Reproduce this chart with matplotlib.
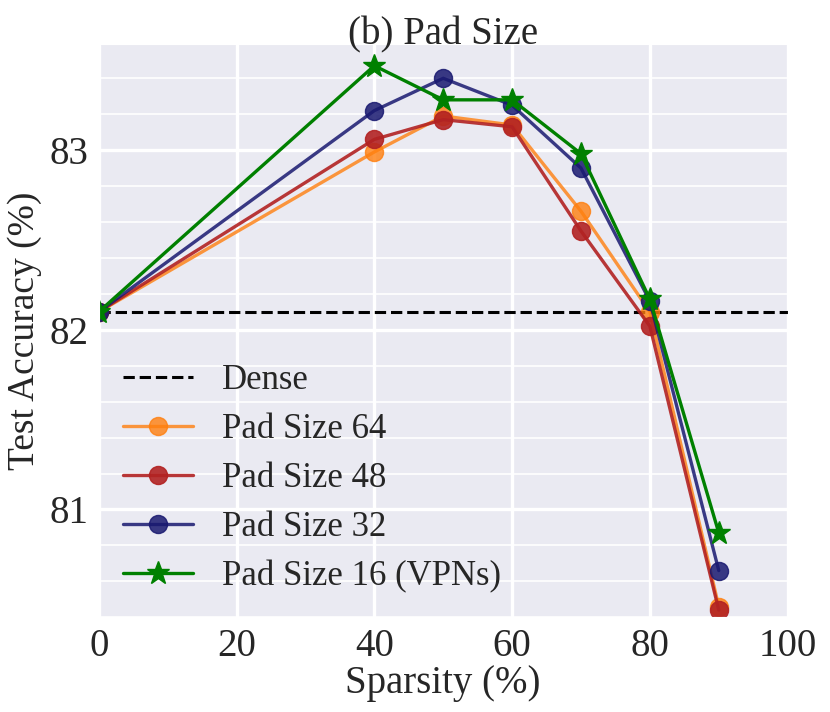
import matplotlib
matplotlib.use('Agg')
import matplotlib.pyplot as plt
import seaborn as sns
from matplotlib.ticker import MultipleLocator

sns.set_style('darkgrid')
plt.rcParams['font.family'] = ['Liberation Serif', 'DejaVu Serif']
plt.rcParams['mathtext.fontset'] = 'stix'

sparsity = [0, 40, 50, 60, 70, 80, 90]
dense_acc = 82.1
pad64 = [82.1, 82.99, 83.19, 83.14, 82.66, 82.10, 80.46]
pad48 = [82.1, 83.06, 83.17, 83.13, 82.55, 82.02, 80.44]
pad32 = [82.1, 83.22, 83.40, 83.25, 82.90, 82.16, 80.66]
pad16 = [82.1, 83.47, 83.28, 83.28, 82.98, 82.17, 80.87]

fig, ax = plt.subplots(figsize=(8.3, 7.12), dpi=100)
fig.subplots_adjust(left=0.119, right=0.949, top=0.938, bottom=0.133)

ax.axhline(dense_acc, color='black', linestyle='--', linewidth=2.2, label='Dense')
ax.plot(sparsity, pad64, marker='o', color='tab:orange', alpha=0.8, linewidth=2.4, markersize=13, label='Pad Size 64')
ax.plot(sparsity, pad48, marker='o', color='firebrick', alpha=0.9, linewidth=2.4, markersize=13, label='Pad Size 48')
ax.plot(sparsity, pad32, marker='o', color='midnightblue', alpha=0.85, linewidth=2.4, markersize=13, label='Pad Size 32')
ax.plot(sparsity, pad16, marker='*', color='green', linewidth=2.4, markersize=17, label='Pad Size 16 (VPNs)')

ax.set_xlim(0, 100)
ax.set_ylim(80.4, 83.59)
ax.set_xticks([0, 20, 40, 60, 80, 100])
ax.set_yticks([81, 82, 83])
ax.yaxis.set_minor_locator(MultipleLocator(0.2))
ax.grid(which='major', color='white', linewidth=2.4)
ax.grid(which='minor', axis='y', color='white', linewidth=1.2)
ax.tick_params(axis='both', which='major', labelsize=28, pad=4)

ax.set_xlabel('Sparsity (%)', fontsize=28, labelpad=0)
ax.set_ylabel('Test Accuracy (%)', fontsize=27, labelpad=5)
ax.set_title('(b) Pad Size', fontsize=28, pad=0)

leg = ax.legend(loc='lower left', fontsize=25, frameon=False, borderaxespad=0.3, labelspacing=0.46, handletextpad=0.85)

fig.savefig('out.png', dpi=100)
